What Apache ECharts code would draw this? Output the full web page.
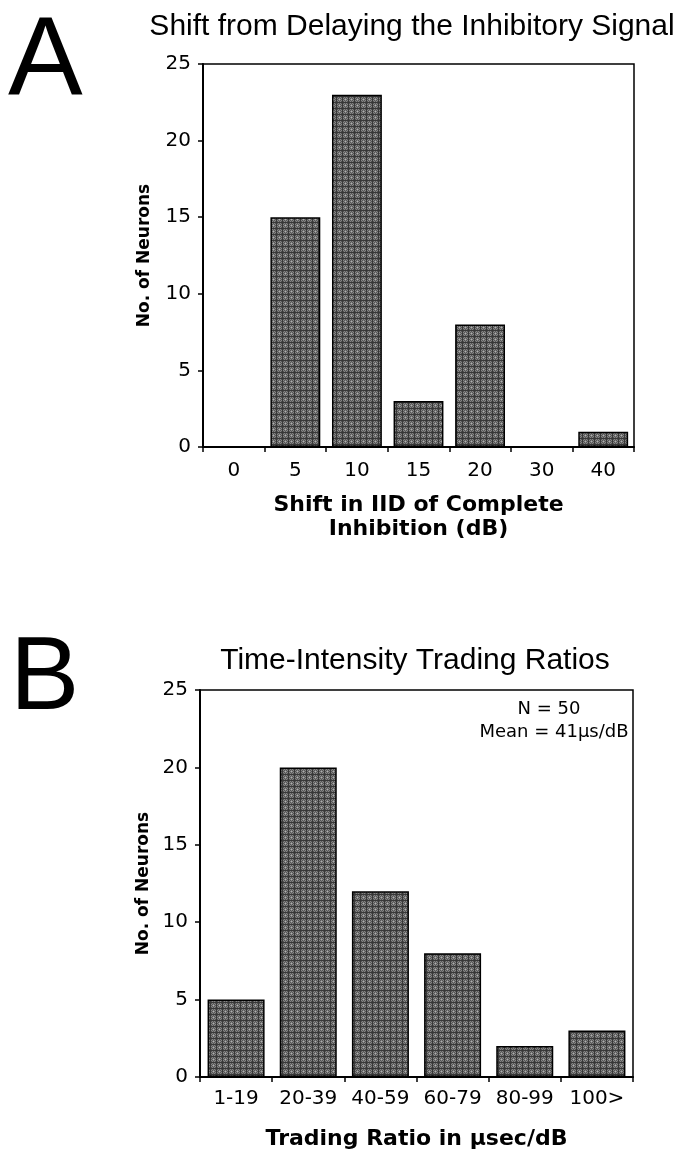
<!DOCTYPE html>
<html>
<head>
<meta charset="utf-8">
<script src="https://cdn.jsdelivr.net/npm/echarts@6/dist/echarts.min.js"></script>
<style>
html,body{margin:0;padding:0;background:#fff;}
#c{width:678px;height:1154px;}
</style>
</head>
<body>
<div id="c"></div>
<script>
// ---- data ----
var catsA = ['0', '5', '10', '15', '20', '30', '40'];
var valsA = [0, 15, 23, 3, 8, 0, 1];
var catsB = ['1-19', '20-39', '40-59', '60-79', '80-99', '100>'];
var valsB = [5, 20, 12, 8, 2, 3];
var yTicks = [0, 5, 10, 15, 20, 25];

// checkered fill pattern
function makePattern() {
  var c = document.createElement('canvas');
  c.width = 6; c.height = 6;
  var g = c.getContext('2d');
  g.fillStyle = '#858585'; g.fillRect(0, 0, 6, 6);
  for (var y = 0; y < 6; y++) {
    for (var x = 0; x < 6; x++) {
      if ((x + y) % 2 === 0) { g.fillStyle = '#555555'; g.fillRect(x, y, 1, 1); }
    }
  }
  g.fillStyle = '#383838';
  g.fillRect(0, 0, 6, 1);
  g.fillRect(0, 0, 1, 6);
  g.fillStyle = '#b0b0b0';
  g.fillRect(3, 3, 1, 1);
  return c;
}
var pat = makePattern();

var FONT = 'Liberation Sans, Arial, Helvetica, sans-serif';
var WIDE = 'DejaVu Sans, Liberation Sans, Arial, sans-serif';

function yAxis(gi, gap) {
  return {
    type: 'value', gridIndex: gi, min: yTicks[0], max: yTicks[yTicks.length - 1], interval: 5,
    name: 'No. of Neurons', nameLocation: 'middle', nameGap: gap,
    nameTextStyle: { fontFamily: WIDE, fontWeight: 'bold', fontSize: 17, color: '#000' },
    axisLine: { show: true, lineStyle: { color: '#000', width: 2 } },
    axisTick: { show: true, inside: false, length: 5, lineStyle: { color: '#000', width: 1.5 } },
    axisLabel: { fontFamily: WIDE, fontSize: 20, color: '#000', margin: 12 },
    splitLine: { show: false }
  };
}

var chart = echarts.init(document.getElementById('c'), null, { renderer: 'canvas' });
chart.setOption({
  backgroundColor: '#fff',
  animation: false,
  title: [
    { text: 'Shift from Delaying the Inhibitory Signal', left: 407, top: 7, textAlign: 'center',
      textStyle: { fontFamily: FONT, fontWeight: 'normal', fontSize: 30, color: '#000' } },
    { text: 'Time-Intensity Trading Ratios', left: 410, top: 641, textAlign: 'center',
      textStyle: { fontFamily: FONT, fontWeight: 'normal', fontSize: 30, color: '#000' } }
  ],
  graphic: [
    { type: 'text', left: 8, top: 7, style: { text: 'A', font: '112px ' + FONT, fill: '#000' } },
    { type: 'text', left: 10, top: 628, style: { text: 'B', font: '104px ' + FONT, fill: '#000' } },
    { type: 'text', x: 549, y: 709, style: { text: 'N = 50', font: '18px ' + WIDE, fill: '#000', textAlign: 'center', textVerticalAlign: 'middle' } },
    { type: 'text', x: 554, y: 732, style: { text: 'Mean = 41\u00b5s/dB', font: '18px ' + WIDE, fill: '#000', textAlign: 'center', textVerticalAlign: 'middle' } }
  ],
  grid: [
    { left: 203, right: 44, top: 64, height: 383, show: true, borderColor: '#000', borderWidth: 1.5, backgroundColor: 'transparent' },
    { left: 200, right: 45, top: 690, height: 387, show: true, borderColor: '#000', borderWidth: 1.5, backgroundColor: 'transparent' }
  ],
  xAxis: [
    { type: 'category', gridIndex: 0, data: catsA,
      name: 'Shift in IID of Complete\nInhibition (dB)', nameLocation: 'middle', nameGap: 46,
      nameTextStyle: { fontFamily: WIDE, fontWeight: 'bold', fontSize: 22, color: '#000', lineHeight: 24, verticalAlign: 'top' },
      axisLine: { show: true, lineStyle: { color: '#000', width: 2 } },
      axisTick: { show: true, interval: 0, length: 5, lineStyle: { color: '#000', width: 1.5 } },
      axisLabel: { interval: 0, fontFamily: WIDE, fontSize: 20, color: '#000', margin: 14 } },
    { type: 'category', gridIndex: 1, data: catsB,
      name: 'Trading Ratio in \u03bcsec/dB', nameLocation: 'middle', nameGap: 51,
      nameTextStyle: { fontFamily: WIDE, fontWeight: 'bold', fontSize: 22, color: '#000', verticalAlign: 'top' },
      axisLine: { show: true, lineStyle: { color: '#000', width: 2 } },
      axisTick: { show: true, interval: 0, length: 5, lineStyle: { color: '#000', width: 1.5 } },
      axisLabel: { interval: 0, hideOverlap: false, fontFamily: WIDE, fontSize: 20, color: '#000', margin: 12 } }
  ],
  yAxis: [yAxis(0, 50), yAxis(1, 48)],
  series: [
    { type: 'bar', xAxisIndex: 0, yAxisIndex: 0, data: valsA, barWidth: '81%',
      itemStyle: { color: { image: pat, repeat: 'repeat' }, borderColor: '#000', borderWidth: 1.5 } },
    { type: 'bar', xAxisIndex: 1, yAxisIndex: 1, data: valsB, barWidth: '79%',
      itemStyle: { color: { image: pat, repeat: 'repeat' }, borderColor: '#000', borderWidth: 1.5 } }
  ]
});
</script>
</body>
</html>
